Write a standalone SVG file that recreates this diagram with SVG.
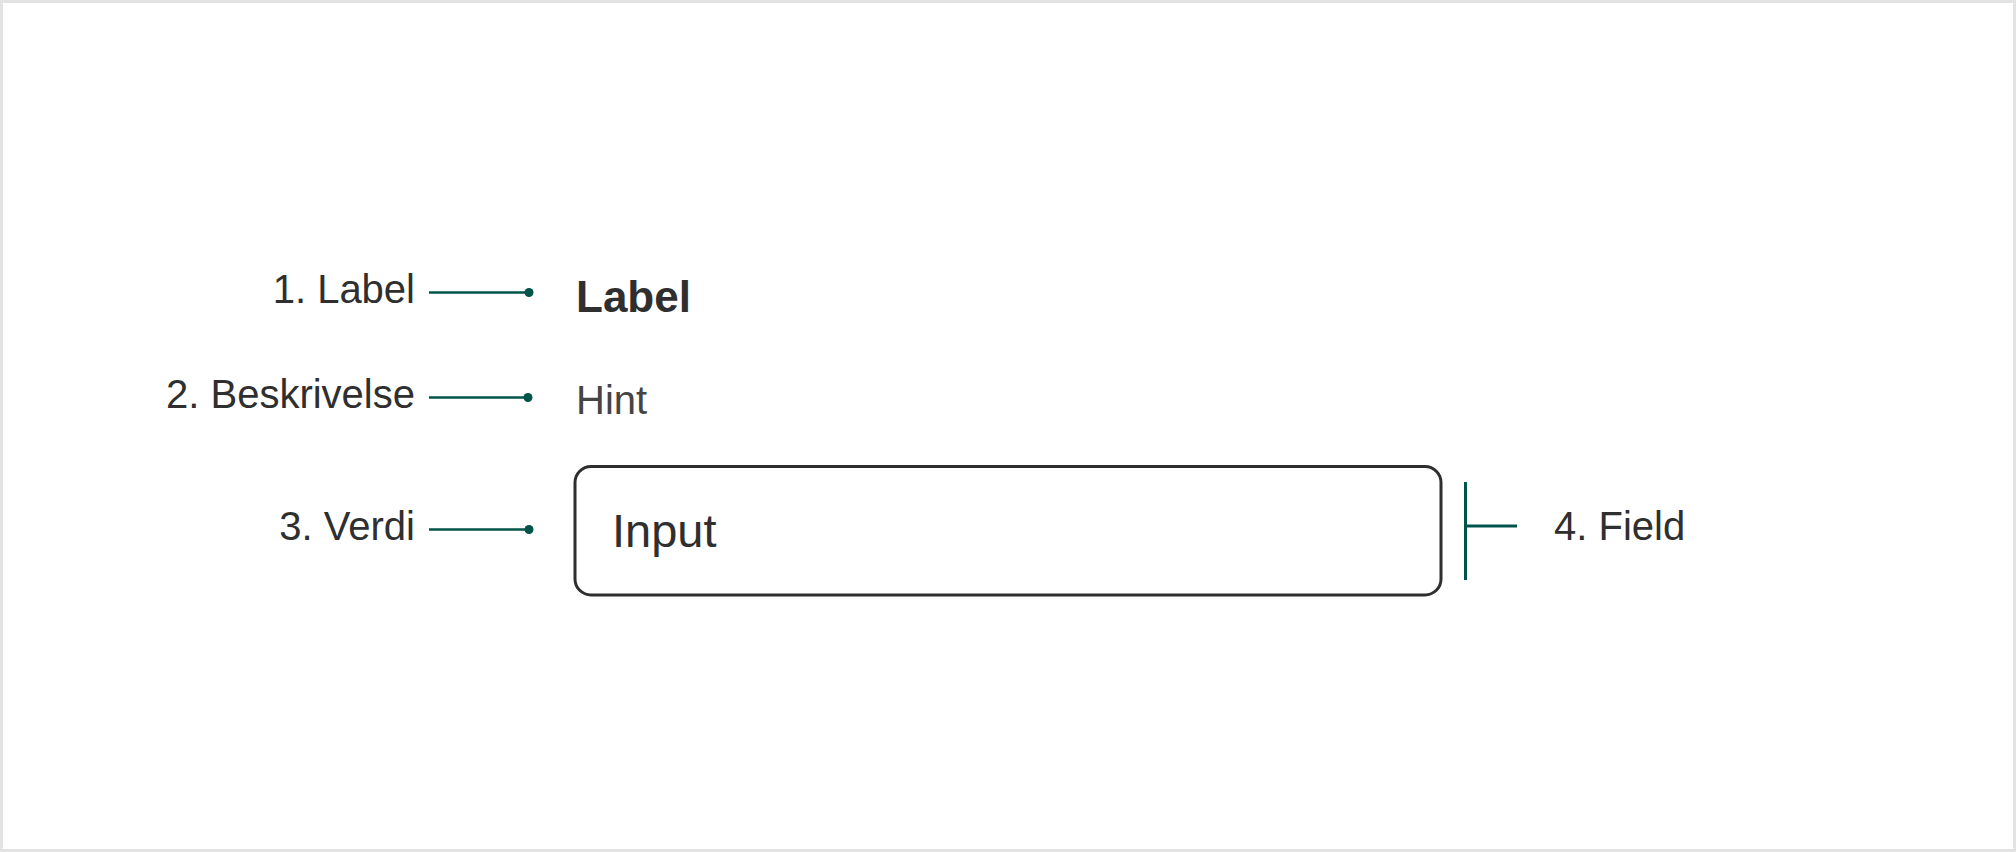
<svg xmlns="http://www.w3.org/2000/svg" width="2016" height="852" viewBox="0 0 2016 852">
  <style>
    .ann { font-family: "Liberation Sans", Arial, sans-serif; font-size: 40px; fill: #2f2f2f; }
    .lead { stroke: #00544a; stroke-width: 2.5; fill: none; }
    .dot { fill: #00544a; }
    .bracket { stroke: #00544a; stroke-width: 3; fill: none; }
  </style>
  <rect x="0" y="0" width="2016" height="852" fill="#ffffff"/>
  <rect x="1.5" y="1.5" width="2013" height="849" fill="none" stroke="#e3e3e3" stroke-width="3"/>

  <g id="label-node">
    <text x="576" y="312" font-family="Liberation Sans, Arial, sans-serif" font-size="44" font-weight="bold" fill="#2f2f2f">Label</text>
  </g>
  <g id="hint-node">
    <text x="576" y="414" font-family="Liberation Sans, Arial, sans-serif" font-size="40" fill="#454545">Hint</text>
  </g>
  <g id="field-node">
    <rect x="575" y="466.5" width="866" height="128.5" rx="16" ry="16" fill="#ffffff" stroke="#2f2f2f" stroke-width="3"/>
    <text x="612" y="547" font-family="Liberation Sans, Arial, sans-serif" font-size="47" fill="#2f2f2f">Input</text>
  </g>

  <g id="annotation-1">
    <text class="ann" x="415" y="303" text-anchor="end">1. Label</text>
  </g>
  <g id="annotation-2">
    <text class="ann" x="415" y="408" text-anchor="end">2. Beskrivelse</text>
  </g>
  <g id="annotation-3">
    <text class="ann" x="415" y="540" text-anchor="end">3. Verdi</text>
  </g>
  <g id="annotation-4">
    <text class="ann" x="1554" y="540">4. Field</text>
  </g>

  <g id="connectors">
    <line class="lead" x1="429" y1="292.5" x2="529" y2="292.5"/>
    <circle class="dot" cx="529" cy="292.5" r="4.5"/>
    <line class="lead" x1="429" y1="397.5" x2="528" y2="397.5"/>
    <circle class="dot" cx="528" cy="397.5" r="4.5"/>
    <line class="lead" x1="429" y1="529.5" x2="529" y2="529.5"/>
    <circle class="dot" cx="529" cy="529.5" r="4.5"/>
    <line class="bracket" x1="1465.5" y1="482" x2="1465.5" y2="580"/>
    <line class="bracket" x1="1465.5" y1="526" x2="1517" y2="526"/>
  </g>
</svg>
